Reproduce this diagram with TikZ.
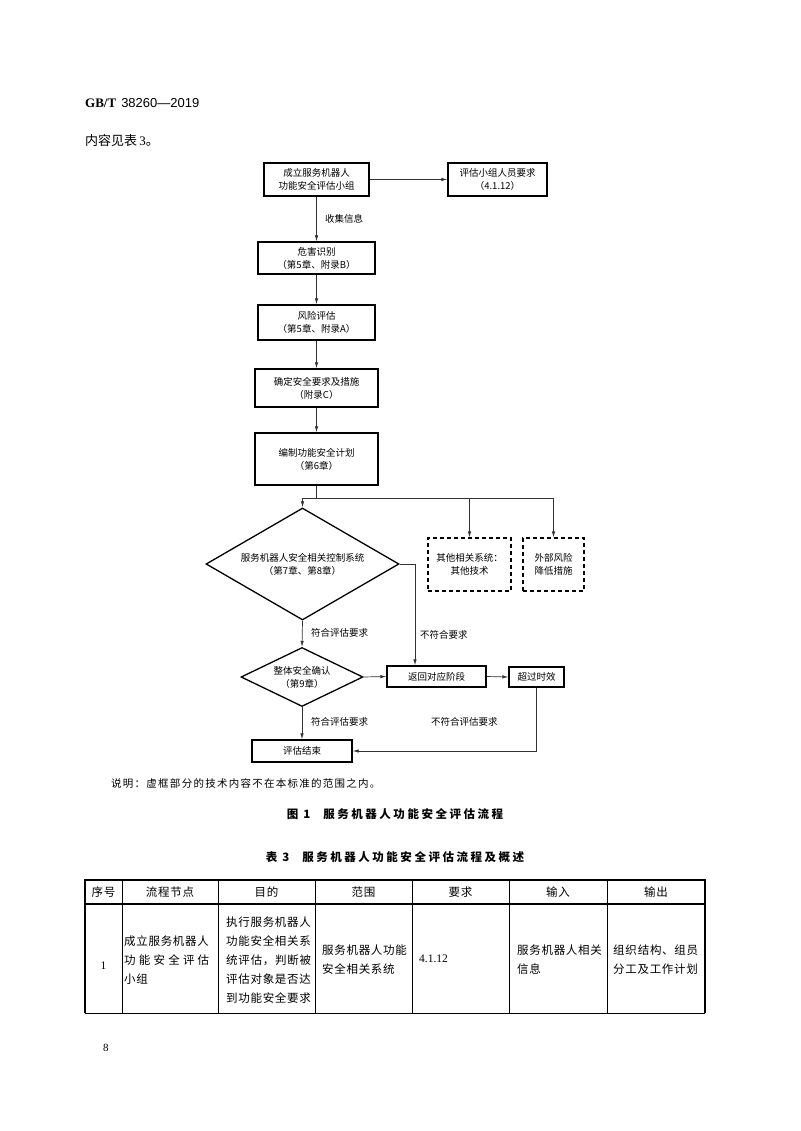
\documentclass[tikz,border=0pt]{standalone}
\usepackage{fontspec}
\setmainfont{Liberation Serif}
\newfontfamily\cjk{Noto Sans CJK SC}
\newfontfamily\cjkt[LetterSpace=6]{Noto Sans CJK SC}
\newfontfamily\cjkn[LetterSpace=12]{Noto Sans CJK SC}
\newfontfamily\cjkh[LetterSpace=22]{Noto Sans CJK SC}
\newfontfamily\arial{Liberation Sans}
\usetikzlibrary{shapes.geometric,arrows.meta}

\tikzset{
  box/.style={draw, line width=1.3pt, align=center, inner sep=0pt,
    font=\cjk\fontsize{9.5}{13}\selectfont},
  dbox/.style={box, line width=1.1pt, dash pattern=on 4pt off 3pt},
  dia/.style={draw, diamond, line width=1.3pt, align=center, inner sep=0pt,
    font=\cjk\fontsize{9.5}{13}\selectfont},
  lbl/.style={anchor=west, inner sep=0pt, font=\cjk\fontsize{9.5}{12}\selectfont},
  arr/.style={-{Latex[length=6pt,width=3.4pt]}, line width=0.7pt, draw=black!80},
  ln/.style={line width=0.7pt, draw=black!80},
  cell/.style={inner sep=0pt, align=left, font=\cjkt\fontsize{11.5}{19}\selectfont},
  txt/.style={inner sep=0pt, anchor=west},
}

\begin{document}
\begin{tikzpicture}[x=1pt,y=-1pt]
  \fill[white] (0,0) rectangle (800,1131);
  \useasboundingbox (0,0) rectangle (800,1131);

  % page head
  \node[txt, anchor=base west] (hdr) at (85,108)
    {\fontsize{13}{15}\selectfont{\bfseries GB/T}\hspace{5pt}{\arial 38260—2019}};
  \node[txt] (intro) at (85,141)
    {\fontsize{13}{15}\selectfont{\cjk 内容见表}\,3{\cjk 。}};

  % main column
  \node[box, minimum width=105pt, minimum height=33pt] (team) at (316.5,179.5)
    {成立服务机器人\\功能安全评估小组};
  \node[box, minimum width=99pt, minimum height=33pt] (req) at (497.5,179.5)
    {评估小组人员要求\\（4.1.12）};
  \node[box, minimum width=117pt, minimum height=32pt] (hazard) at (316.5,258)
    {危害识别\\（第5章、附录B）};
  \node[box, minimum width=117pt, minimum height=35pt] (risk) at (316.5,322.5)
    {风险评估\\（第5章、附录A）};
  \node[box, minimum width=123pt, minimum height=38pt] (meas) at (316.5,388)
    {确定安全要求及措施\\（附录C）};
  \node[box, minimum width=123pt, minimum height=52pt] (plan) at (316.5,459)
    {编制功能安全计划\\（第6章）};

  % branch
  \node[dia, aspect=1.72, minimum width=193pt, minimum height=112pt] (ctrl) at (302.5,564)
    {服务机器人安全相关控制系统\\（第7章、第8章）};
  \node[dbox, minimum width=83pt, minimum height=53pt] (other) at (469.5,564.5)
    {其他相关系统：\\其他技术};
  \node[dbox, minimum width=61pt, minimum height=53pt] (ext) at (553.5,564.5)
    {外部风险\\降低措施};

  % lower part
  \node[dia, aspect=2.07, minimum width=122pt, minimum height=59pt] (whole) at (302,677)
    {整体安全确认\\（第9章）};
  \node[box, minimum width=99pt, minimum height=21pt] (back) at (436.5,676.5)
    {返回对应阶段};
  \node[box, minimum width=55pt, minimum height=20pt] (late) at (536.5,677)
    {超过时效};
  \node[box, minimum width=100pt, minimum height=22pt] (done) at (302,751)
    {评估结束};

  % connectors
  \draw[arr] (team) -- (req);
  \draw[arr] (team) -- (hazard);
  \draw[arr] (hazard) -- (risk);
  \draw[arr] (risk) -- (meas);
  \draw[arr] (meas) -- (plan);
  \coordinate (fork) at (316.5,498);
  \coordinate (forkr) at (553.5,498);
  \draw[ln] (plan) -- (fork);
  \draw[ln] (ctrl.north |- fork) -- (forkr);
  \draw[arr] (ctrl.north |- fork) -- (ctrl.north);
  \draw[arr] (other.north |- fork) -- (other.north);
  \draw[arr] (forkr) -- (ext.north);
  \coordinate (turn) at (415,564);
  \draw[arr] (ctrl.east) -- (turn) -- (turn |- back.north);
  \draw[arr] (ctrl.south) -- (whole.north);
  \draw[arr] (whole.east) -- (back.west);
  \draw[arr] (back.east) -- (late.west);
  \draw[arr] (whole.south) -- (done.north);
  \draw[arr] (late.south) |- (done.east);

  % edge labels
  \node[lbl] (collect) at (325,219) {收集信息};
  \node[lbl] (ok1) at (311,633) {符合评估要求};
  \node[lbl] (nok1) at (420,635) {不符合要求};
  \node[lbl] (ok2) at (311,722) {符合评估要求};
  \node[lbl] (nok2) at (431,722) {不符合评估要求};

  % note and captions
  \node[txt, font=\cjkn\fontsize{10.5}{12}\selectfont] (note) at (111,784)
    {说明：虚框部分的技术内容不在本标准的范围之内。};
  \node[inner sep=0pt, font=\cjkh\bfseries\fontsize{11.5}{13}\selectfont] (fig) at (395,814)
    {图\hspace{5pt}1\hspace{13pt}服务机器人功能安全评估流程};
  \node[inner sep=0pt, font=\cjkh\bfseries\fontsize{11.5}{13}\selectfont] (tab) at (395,857)
    {表\hspace{5pt}3\hspace{13pt}服务机器人功能安全评估流程及概述};

  % table 3
  \draw[line width=1.2pt] (85,1013) -- (85,880) -- (705,880) -- (705,1013);
  \draw[line width=1.2pt] (85,904) -- (705,904);
  \draw[line width=0.5pt] (85,1013) -- (705,1013);
  \foreach \cx in {122,218,315,412,509,607}
    \draw[line width=0.5pt] (\cx,880) -- (\cx,1013);
  \foreach \t/\cx [count=\i] in {序号/103.5,流程节点/170,目的/266.5,范围/363.5,
      要求/460.5,输入/558,输出/656}
    \node[cell] (h\i) at (\cx,892) {\t};
  \node[cell] (c1) at (103.5,966) {\rmfamily 1};
  \node[cell, anchor=west] (c2) at (124,960)
    {成立服务机器人\\\makebox[85pt][s]{功\hfill 能\hfill 安\hfill 全\hfill 评\hfill 估}\\小组};
  \node[cell, anchor=west] (c3) at (226,960)
    {执行服务机器人\\功能安全相关系\\\makebox[85pt][s]{统\hfill 评\hfill 估，判\hfill 断\hfill 被}\\评估对象是否达\\到功能安全要求};
  \node[cell, anchor=west] (c4) at (322,960) {服务机器人功能\\安全相关系统};
  \node[cell, anchor=west] (c5) at (419,959) {\rmfamily 4.1.12};
  \node[cell, anchor=west] (c6) at (517,960) {服务机器人相关\\信息};
  \node[cell, anchor=west] (c7) at (613,960)
    {\makebox[85pt][s]{组\hfill 织\hfill 结\hfill 构、组\hfill 员}\\分工及工作计划};

  % page number
  \node[txt, font=\fontsize{11}{13}\selectfont] (pg) at (103,1048) {8};
\end{tikzpicture}
\end{document}
